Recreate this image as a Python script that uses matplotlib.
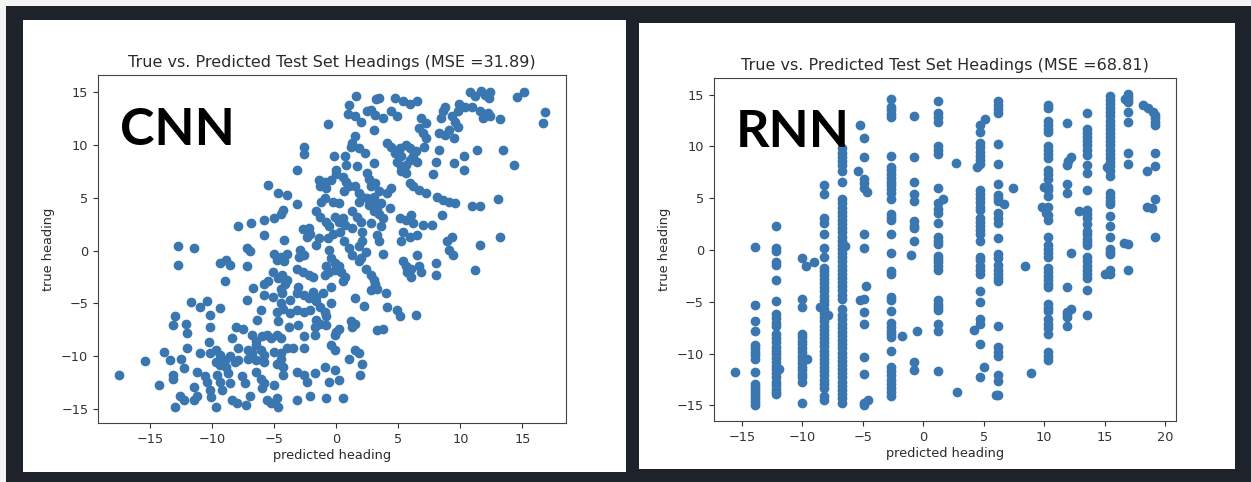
import matplotlib
matplotlib.use("Agg")
import matplotlib.pyplot as plt
from matplotlib.patches import Rectangle
import numpy as np

# ---------------- CNN: predicted vs true heading ----------------
cnn_pred = [
    1.56, 4.74, 3.2, 3.4, 5.4, 5.9, 6.5, 10.8, 11.2, 11.7, 12.0, 12.4, 12.3, 14.6, 15.1, 16.8, 16.7,
    1.0, 0.94, 1.5, 2.0, 2.5, 2.8, 3.1, 3.8, 3.0, 4.4, 4.9, -0.7, 6.85, 7.2, 6.7, 7.0, 7.2,
    8.6, 8.8, 8.4, 9.3, 9.8, 9.9, 10.4, 10.9, 9.6, 9.8, 9.1, 8.8, 8.3, 9.5, 11.6, 11.8, 12.2, 12.4, 13.2,
    1.5, 1.3, 1.2, 1.8, 2.3, 4.1, 4.4, 4.7, 5.1, 5.6, 5.9, 5.2, 4.9, 5.2, 5.6, 5.9, 6.2, 6.4, 6.5, 5.2, 5.6,
    7.1, 8.0, 7.8, 8.3, 11.3, 13.4, 10.3, 9.5, 10.3, 14.3, -2.6, -2.6, -3.2, -0.2, 0.7, 0.0, 0.8, 1.7, 2.5, 3.0,
    -1.4, -0.9, -0.45, -1.3, -0.8, 0.0, 0.5, 0.8, 1.0, 0.6, 1.5, 1.8, 2.1, 1.8,
    2.6, 2.8, 3.1, 3.4, 3.0, 2.5, 2.6, 3.1, 3.6, 3.3, 3.0,
    4.4, 4.1, 4.3, 5.9, 6.2, 6.7, 7.2, 8.1, 8.6, 9.1, 9.6, 10.9, 11.6, 13.0,
    -5.5, -4.7, -4.0, -3.2, -1.2, -0.95, -0.3, 0.2,
    -1.6, -1.3, -0.8, -0.6, -0.1, 0.2, 0.5, 0.7, 0.3, -0.3,
    1.3, 1.7, 2.0, 1.3, 2.1, 2.8, 3.4, 3.8, 3.6,
    5.1, 5.6, 6.0, 6.2, 7.0, 7.7, 8.5, 5.4, 5.9, 6.5,
    -7.9, -6.9, -5.8, -5.0, -4.5, -4.3, -5.8, -4.2,
    -2.7, -2.2, -2.1, -2.4, -1.4, -0.7,
    -12.8, -11.5, -12.8, -7.2, -7.0,
    -5.0, -4.5, -4.0, -4.8, -4.2, -2.9, -2.6, -3.0,
    -1.6, -0.6, -0.45, -0.1, -0.8, 0.2,
    0.6, 1.0, 1.3, 1.8, 2.1, 2.4, 2.0, 1.8, 3.3, 3.4, 3.8,
    5.2, 5.4, 6.5, 8.0, 8.96, 9.3, 9.1, 9.4, 11.6, 13.2,
    -9.4, -8.9, -8.6, -7.2,
    -9.0, -6.7, -7.2,
    -5.8, -5.5, -5.1, -4.7, -4.4, -4.0, -4.1, -4.5, -5.8, -5.1, -4.4,
    -3.2, -2.7, -2.2, -1.9, -3.1, -3.2, -3.7, -2.6, -2.2, -1.9,
    -0.95, -0.6, -0.1, 0.4, 0.7, 0.5, -0.4, -1.1, -1.6,
    2.4, 2.8, 3.0, 3.1, 3.3, 2.8, 4.0, 1.5,
    5.6, 5.7, 6.0, 6.7, 6.8, 6.0, 8.0, 11.2,
    -11.7, -11.0, -10.4, -9.4, -10.2, -10.2,
    -13.0, -13.2, -12.1, -12.0,
    -8.1, -7.5, -6.1, -6.4, -4.8, -4.7, -3.8, -3.1, -3.7, -3.2, -2.6, -2.1, -4.3, -4.5,
    -1.6, -1.3, -0.9, -0.45, -0.8, -1.6, -1.75, -1.3, -0.8,
    1.2, 1.5, 1.3, 2.2, 4.1, 4.9, 5.1, 6.4, 3.3, 3.8, 0.0, 0.2,
    -6.8, -6.5, -6.0, -5.6, -5.3, -4.8, -4.5, -8.4, -7.9, -7.1, -6.8, -6.5, -6.1, -5.8,
    -7.1, -6.5, -5.8, -5.0, -4.5, -4.5, -4.8, -4.3,
    -4.0, -3.5, -2.6, -2.6, -1.75,
    -0.13, -0.45, -0.1, 1.5, 1.8, 1.0, 2.1,
    -10.3, -10.2, -11.0, -12.0, -12.5, -13.4, -13.9, -15.4,
    -9.7, -9.4, -9.0, -8.6, -8.2, -8.9, -9.4, -9.7, -7.9,
    -17.5, -14.3, -13.2, -12.3, -11.2, -11.5, -12.6, -12.3, -11.5, -11.2, -10.2, -10.1, -9.7, -13.0, -13.2,
    -10.6, -10.4, -9.6, -9.4, -9.2, -8.7, -8.6, -8.4, -8.0, -7.6, -7.4, -7.3, -7.0,
    -6.5, -6.1, -6.0, -5.8, -5.6, -5.3, -5.0, -4.8, -4.7, -4.3,
    -3.2, -3.2, -2.6, -2.4, -2.1, -1.75,
    -0.9, -0.6, -0.13, 0.2, -0.8, 0.5, 1.9,
]
cnn_true = [
    14.6, 14.4, 14.3, 14.4, 14.1, 13.9, 14.1, 15.0, 14.6, 15.1, 14.7, 15.0, 14.4, 14.5, 15.0, 13.1, 12.1,
    13.8, 12.9, 12.7, 12.2, 13.2, 13.3, 12.8, 12.5, 11.4, 13.2, 12.7, 12.0, 12.5, 12.1, 11.6, 11.1, 10.6,
    13.2, 13.6, 12.5, 12.7, 13.2, 13.9, 13.6, 13.6, 12.2, 11.7, 11.4, 10.9, 11.1, 10.6, 13.2, 12.5, 13.0, 12.7, 12.4,
    10.8, 10.2, 9.8, 9.7, 9.2, 10.2, 9.8, 9.2, 9.7, 10.0, 9.7, 8.9, 8.4, 8.0, 8.1, 8.6, 8.9, 9.4, 8.4, 7.5, 7.3,
    9.8, 8.4, 7.2, 9.5, 9.5, 9.5, 8.9, 8.3, 7.6, 8.1, 9.8, 9.1, 7.6, 8.9, 8.9, 7.6, 8.1, 8.0, 7.3, 8.3,
    6.7, 6.5, 6.7, 6.1, 5.9, 7.2, 7.0, 6.5, 6.1, 5.6, 6.1, 5.4, 5.1, 4.6,
    6.8, 6.1, 6.4, 5.6, 5.1, 5.0, 4.3, 4.6, 4.5, 4.0, 3.7,
    5.9, 5.4, 4.0, 6.4, 6.1, 5.7, 5.4, 5.1, 4.8, 4.6, 4.5, 4.2, 4.2, 4.9,
    6.2, 5.4, 5.3, 4.4, 4.6, 5.0, 4.6, 4.5,
    3.7, 3.2, 2.7, 2.3, 3.2, 2.7, 3.1, 2.4, 1.8, 1.6,
    3.7, 3.2, 2.7, 2.1, 1.8, 2.6, 3.5, 3.1, 2.3,
    3.1, 2.9, 3.4, 2.6, 2.4, 2.4, 3.4, 1.8, 1.3, 1.5,
    2.3, 2.6, 2.9, 3.1, 3.5, 3.8, 1.5, 1.0,
    2.0, 2.1, 1.6, 1.3, 1.2, 1.2,
    0.4, 0.2, -1.4, 0.2, 0.0,
    -0.3, -0.6, -0.3, -0.9, -1.0, 0.1, -0.4, -0.6,
    0.5, 0.1, -0.7, -1.2, -1.5, -1.5,
    0.9, 0.2, -0.4, 0.4, 0.9, -0.1, -0.7, -1.0, 1.5, 0.9, -0.3,
    0.9, -1.0, -0.4, -1.2, 0.9, 1.3, 0.1, -0.4, 0.5, 1.3,
    -1.2, -0.9, -1.4, -1.5,
    -2.9, -3.5, -4.7,
    -3.2, -2.9, -2.0, -2.6, -2.3, -2.8, -3.2, -3.6, -4.2, -4.4, -4.0,
    -1.7, -2.0, -2.3, -2.5, -3.4, -4.0, -4.7, -4.2, -4.5, -3.9,
    -2.3, -2.0, -1.8, -2.0, -2.5, -2.9, -3.4, -4.0, -4.4,
    -1.7, -2.3, -2.8, -3.2, -3.6, -3.7, -4.0, -4.5,
    -1.5, -2.0, -2.5, -1.5, -2.0, -1.7, -2.3, -1.8,
    -4.9, -5.3, -4.8, -5.4, -6.1, -7.2,
    -6.2, -7.0, -6.9, -7.8,
    -7.2, -7.4, -5.6, -6.6, -5.8, -6.7, -7.2, -7.0, -5.9, -5.6, -5.8, -5.6, -5.5, -5.0,
    -4.8, -5.3, -5.8, -5.0, -6.2, -6.6, -7.2, -6.9, -7.0,
    -6.7, -6.9, -7.2, -5.2, -5.3, -5.6, -6.2, -6.1, -7.5, -7.4, -7.7, -7.4,
    -8.0, -8.5, -8.1, -8.0, -8.3, -8.0, -8.3, -8.3, -9.2, -9.4, -9.7, -8.9, -9.4, -9.9,
    -10.2, -10.3, -10.5, -9.6, -9.7, -10.2, -10.7, -11.0,
    -9.2, -9.2, -8.1, -9.2, -8.0,
    -8.0, -8.9, -9.4, -9.4, -9.7, -10.2, -10.7,
    -8.6, -9.7, -9.7, -9.2, -10.2, -10.3, -9.6, -10.4,
    -9.4, -9.9, -10.3, -10.0, -10.5, -11.0, -10.8, -10.5, -10.3,
    -11.8, -12.7, -11.8, -11.1, -11.5, -12.9, -13.7, -14.1, -14.1, -13.7, -13.2, -13.8, -14.8, -14.8, -12.1,
    -11.9, -12.4, -11.8, -12.4, -13.2, -11.6, -12.5, -14.1, -14.4, -11.9, -12.5, -14.6, -13.7,
    -11.5, -12.1, -13.0, -12.5, -14.1, -14.4, -12.7, -13.9, -14.8, -11.8,
    -14.1, -11.5, -11.8, -12.4, -13.7, -11.6,
    -11.0, -12.4, -11.3, -12.2, -13.9, -13.9, -11.8,
]

# ---------------- RNN: predictions fall in vertical bands ----------------
rnn_col_pred = [-13.95, -12.2, -10.0, -8.2, -6.7, -4.9, -2.7, -0.8, 1.2, 4.7, 6.2, 10.3, 11.9, 13.5, 15.4, 16.9, 19.15]
rnn_col_true = [
    [0.3, -5.3, -6.9, -7.8, -9.2, -9.5, -9.8, -10.1, -10.5, -11.8, -12.9, -13.2, -13.5, -13.8, -14.1, -14.4, -14.7, -15.0],
    [2.3, 0.2, -0.1, -1.2, -1.4, -2.9, -4.9, -6.2, -6.6, -7.0, -7.3, -8.1, -8.5, -8.9, -9.4, -9.7, -10.0, -10.4,
     -10.8, -11.2, -11.5, -11.9, -12.3, -12.7, -13.0, -13.4, -13.7, -13.9],
    [-0.8, -4.7, -5.5, -8.1, -8.4, -8.8, -9.1, -9.5, -9.8, -10.2, -10.5, -10.9, -11.3, -11.6, -12.0, -12.3, -12.7, -14.8],
    [6.3, 5.4, 3.1, 2.6, 1.5, 0.2, -0.7, -1.7, -2.0, -2.4, -2.8, -3.2, -3.6, -4.0, -4.4, -4.8, -5.2, -5.7, -6.1,
     -6.5, -6.9, -7.3, -7.7, -8.1, -8.5, -8.9, -9.3, -9.7, -10.1, -10.5, -10.9, -11.3, -11.7, -12.1, -12.5, -12.9,
     -13.3, -14.1, -14.5],
    [9.8, 9.4, 9.0, 8.6, 8.2, 7.6, 6.6, 4.9, 4.5, 4.1, 3.7, 3.3, 2.9, 2.5, 2.1, 1.7, 1.3, 0.9, 0.5, 0.1, -0.3,
     -0.7, -1.1, -1.5, -1.9, -2.3, -2.7, -3.1, -3.5, -3.9, -4.3, -4.7, -5.7, -6.3, -6.7, -7.1, -7.5, -7.9, -8.3,
     -8.7, -9.1, -9.5, -9.9, -10.3, -10.7, -11.1, -11.5, -11.9, -12.3, -12.7, -13.1, -13.5, -13.9, -14.3, -14.8],
    [10.8, 9.0, 6.9, 6.5, 6.0, 1.5, 0.2, -4.7, -6.0, -7.1, -10.3, -12.0, -14.8, -15.0],
    [14.6, 13.8, 13.5, 13.1, 12.8, 9.1, 8.0, 7.7, 7.3, 7.0, 6.6, 6.3, 5.9, 5.5, 4.9, 3.5, 3.2, 2.9, 1.5, -0.3,
     -2.0, -2.3, -4.5, -4.8, -5.9, -7.0, -7.4, -7.8, -8.1, -8.4, -9.7, -11.3, -11.7, -12.1, -12.5, -12.9, -13.3,
     -13.7, -14.1],
    [12.9, 9.0, 6.6, 5.4, 4.7, 2.8, 2.3, 2.1, 0.9, -10.8, -11.6],
    [14.4, 13.2, 12.8, 12.4, 10.0, 9.7, 9.3, 6.0, 4.5, 4.0, 3.6, 2.6, 1.3, 0.9, 0.6, -0.6, -0.9, -1.2, -1.5, -1.9,
     -4.8, -5.2, -5.5, -5.8, -7.1, -7.8, -11.7],
    [12.1, 11.4, 10.3, 9.9, 9.5, 9.1, 8.7, 8.3, 5.8, 5.4, 5.0, 4.6, 4.2, 3.9, 3.1, 2.7, 2.3, 1.9, 1.5, 0.9, -0.7,
     -1.0, -1.5, -1.9, -2.3, -4.0, -5.0, -6.7, -7.1, -9.1, -12.3],
    [14.4, 14.0, 13.6, 13.2, 10.2, 8.3, 6.4, 5.3, 5.0, 4.7, 3.6, 3.1, 2.6, 1.2, -0.4, -0.8, -1.4, -1.9, -2.3, -2.7,
     -3.0, -7.3, -9.4, -9.8, -10.2, -12.1, -12.6, -14.0],
    [14.0, 13.7, 12.5, 12.1, 11.7, 11.4, 10.0, 9.7, 9.3, 8.9, 7.7, 7.3, 6.9, 6.1, 5.8, 5.2, 4.2, 3.4, 2.9, 1.3,
     0.5, 0.1, -0.3, -0.7, -1.7, -2.1, -2.5, -2.9, -3.3, -3.6, -5.2, -5.6, -5.9, -6.7, -7.1, -7.5, -8.1, -9.8,
     -10.2, -10.6],
    [12.3, 8.2, 6.4, 5.5, -3.6, -6.2, -6.5, -7.3],
    [13.2, 11.7, 11.3, 10.9, 10.5, 10.1, 9.7, 9.2, 8.2, 7.4, 5.8, 3.9, 3.5, 3.1, 2.5, 1.8, 1.5, 1.1, 0.8, 0.5,
     -0.7, -1.1, -1.5, -1.9, -2.3, -2.7, -3.9, -6.3],
    [14.9, 14.5, 14.1, 13.7, 13.3, 12.9, 12.5, 12.1, 11.7, 11.3, 10.9, 10.5, 10.1, 9.7, 9.3, 8.9, 8.5, 8.1, 7.6,
     7.1, 5.5, 5.1, 4.7, 4.4, 3.3, 2.3, 1.3, 0.1, -0.2, -0.4, -1.9, -2.3],
    [15.1, 14.8, 14.5, 14.3, 13.3, 12.4, 9.4, 8.3, 0.6, -1.9],
    [13.0, 12.7, 12.4, 12.1, 9.4, 8.1, 4.9, 1.3],
]
# predictions lying off the main bands
rnn_extra_pred = [-15.6, -11.9, -9.7, -9.0, -9.65, -8.55, -7.9, -6.5, -5.2, -5.4, -4.65, -4.7, -5.2, -4.6,
                  -1.8, -1.0, -0.5, 1.6, 2.7, 2.8, 5.1, 4.4, 4.2, 5.0, 6.7, 7.4, 8.4, 8.9, 6.0,
                  9.8, 10.0, 10.1, 12.2, 12.2, 12.2, 12.0, 11.85, 12.9, 15.2, 15.0, 16.6, 16.7,
                  18.2, 18.6, 19.0, 18.5, 18.5, 18.9]
rnn_extra_true = [-11.8, -11.5, -1.5, -1.2, -10.5, -5.5, -6.3, 0.4, 12.1, 7.6, 5.6, -3.5, -4.8, -14.5,
                  -8.3, -0.5, -7.8, 4.9, 8.4, -13.7, 12.6, 8.0, -7.7, -11.3, 4.4, 6.0, -1.5, -11.9, -14.0,
                  4.2, 6.1, 3.6, -0.3, 9.0, -5.7, 8.6, -6.0, 3.8, 8.0, -2.3, 0.7, 14.6,
                  14.0, 13.7, 13.3, 7.6, 4.2, 4.1]

rnn_pred = np.concatenate([np.full(len(ys), x) for x, ys in zip(rnn_col_pred, rnn_col_true)] + [rnn_extra_pred])
rnn_true = np.concatenate([np.array(ys) for ys in rnn_col_true] + [rnn_extra_true])

titles = ["True vs. Predicted Test Set Headings (MSE =31.89)",
          "True vs. Predicted Test Set Headings (MSE =68.81)"]
model_names = ["CNN", "RNN"]

W, H = 1251, 482
fig = plt.figure(figsize=(W / 100, H / 100), dpi=100, facecolor="#1e222b")

def px_rect(x0, y0, x1, y1, color):
    fig.patches.append(Rectangle((x0 / W, 1 - y1 / H), (x1 - x0) / W, (y1 - y0) / H,
                                 transform=fig.transFigure, facecolor=color, edgecolor="none", zorder=-10))

# thin light margin along the top and left edges
px_rect(0, 0, W, 6, "#f4f4f4")
px_rect(0, 0, 6, H, "#f4f4f4")
# white card behind each plot
px_rect(23, 20, 626, 472, "white")
px_rect(639, 23, 1235, 469, "white")

dot_color = "#3a76b0"
plt.rcParams["font.family"] = ["DejaVu Sans"]

ax1 = fig.add_axes([98 / W, 1 - 423 / H, 468 / W, 348 / H])
ax2 = fig.add_axes([713.6 / W, 1 - 421 / H, 462.4 / W, 343 / H])

for ax, xs, ys, title, name in [(ax1, cnn_pred, cnn_true, titles[0], model_names[0]),
                                (ax2, rnn_pred, rnn_true, titles[1], model_names[1])]:
    ax.set_zorder(5)
    ax.scatter(xs, ys, s=36, color=dot_color, edgecolors="face", linewidths=1.0)
    ax.set_title(title, fontsize=11.5, color="#2a2a2a", pad=6)
    ax.set_xlabel("predicted heading", fontsize=9.3, color="#2a2a2a", labelpad=2)
    ax.set_ylabel("true heading", fontsize=9.3, color="#2a2a2a", labelpad=4)
    ax.set_yticks([-15, -10, -5, 0, 5, 10, 15])
    ax.tick_params(labelsize=9.3, colors="#333333", length=3.5, width=0.8)
    for sp in ax.spines.values():
        sp.set_color("#444444")
        sp.set_linewidth(0.8)
    ax.text(0.047, 0.84, name, transform=ax.transAxes, fontsize=37.5, fontweight="bold",
            family=["Lato", "DejaVu Sans"], color="black", va="center", ha="left")

ax1.set_xticks([-15, -10, -5, 0, 5, 10, 15])
ax2.set_xticks([-15, -10, -5, 0, 5, 10, 15, 20])

fig.savefig("out.png", dpi=100, facecolor=fig.get_facecolor())
